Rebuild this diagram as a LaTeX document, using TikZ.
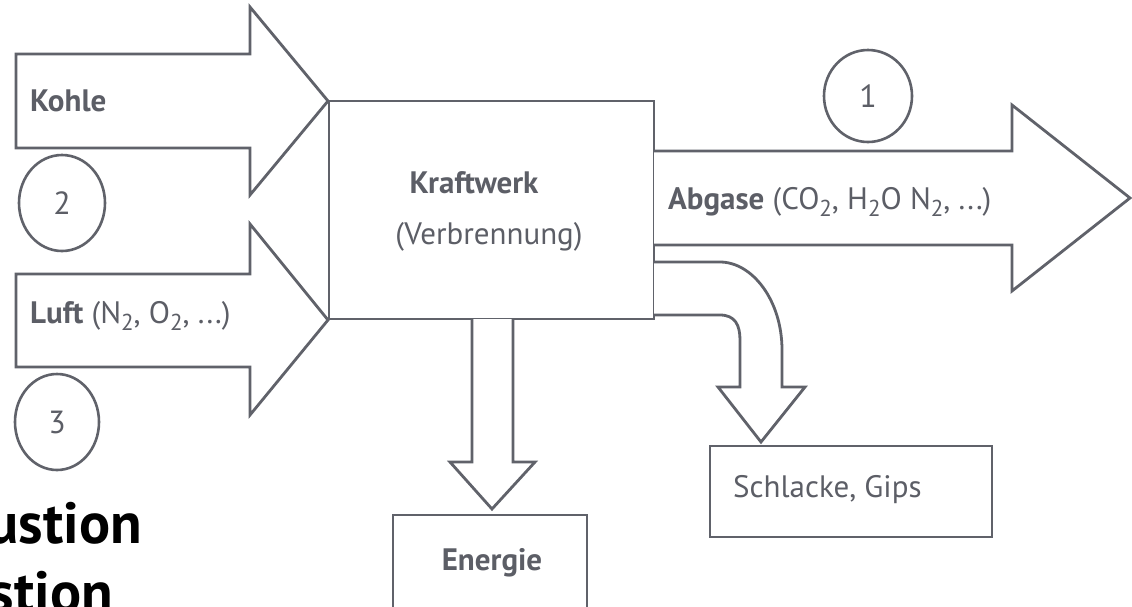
\documentclass[tikz,border=0pt]{standalone}
\usepackage{fontspec}
\setmainfont{PT Sans}
\usetikzlibrary{shapes.geometric}
\definecolor{ln}{RGB}{96,98,106}
\definecolor{tx}{RGB}{92,94,102}
\newcommand{\subs}[1]{\raisebox{-0.22em}{\fontsize{23}{23}\selectfont #1}}
\begin{document}
\begin{tikzpicture}[x=1pt,y=-1pt,
  flow/.style={draw=ln, line width=2.8pt, fill=white},
  boxline/.style={draw=ln, line width=2.8pt},
  lbl/.style={text=tx, font=\fontsize{31}{36}\selectfont, inner sep=0pt},
  blbl/.style={lbl, font=\bfseries\fontsize{31}{36}\selectfont},
  num/.style={draw=ln, line width=2.6pt, ellipse, text=tx, inner sep=0pt,
    font=\fontsize{32}{36}\selectfont},
  big/.style={text=black, font=\bfseries\fontsize{58}{64}\selectfont, inner sep=0pt}]
\useasboundingbox (0,0) rectangle (1132,606);
\clip (0,0) rectangle (1132,606);
\fill[white] (0,0) rectangle (1132,606);

% Kraftwerk box
\draw[boxline] (329,101) rectangle (654,319);
\node[blbl] (kw) at (474,183) {Kraftwerk};
\node[lbl] (vb) at (489,237) {(Verbrennung)};

% Kohle arrow
\draw[flow] (16,54) -- (250,54) -- (250,7) -- (328,101) -- (250,195) -- (250,148) -- (16,148) -- cycle;
\node[blbl, anchor=west] (kohle) at (30,101) {Kohle};

% Luft arrow
\draw[flow] (16,274) -- (250,274) -- (250,224) -- (328,320) -- (250,415) -- (250,367) -- (16,367) -- cycle;
\node[lbl, anchor=west] (luft) at (30,316) {\textbf{Luft} (N\subs{2}, O\subs{2}, ...)};

% Abgase arrow
\draw[flow] (654,151) -- (1012,151) -- (1012,105) -- (1130,198) -- (1012,291) -- (1012,245) -- (654,245);
\node[lbl, anchor=west] (abg) at (668,202) {\textbf{Abgase} (CO\subs{2}, H\subs{2}O N\subs{2}, ...)};

% Energie arrow and box
\draw[flow] (472,319) -- (472,462) -- (450,462) -- (492,509) -- (535,462) -- (513,462) -- (513,319);
\draw[boxline] (393,515) rectangle (587,650);
\node[blbl] (en) at (492,563) {Energie};

% Schlacke arrow and box
\draw[flow] (654,262) -- (720,262) .. controls (752,262) and (782,300) .. (782,350)
  -- (782,387) -- (805,387) -- (761,442) -- (718,387) -- (740,387) -- (740,340)
  .. controls (740,325) and (735,315) .. (720,315) -- (654,315);
\draw[boxline] (710,446) rectangle (992,537);
\node[lbl, anchor=west] (sg) at (733,490) {Schlacke, Gips};

% numbered circles
\node[num, minimum width=86pt, minimum height=96pt] (c2) at (62,203) {2};
\node[num, minimum width=84pt, minimum height=96pt] (c3) at (57,422) {3};
\node[num, minimum width=88pt, minimum height=92pt] (c1) at (868,96) {1};

% cut-off heading text
\node[big, anchor=base east] (h1) at (142,543) {ustion};
\node[big, anchor=base east] (h2) at (113,612) {stion};
\end{tikzpicture}
\end{document}
